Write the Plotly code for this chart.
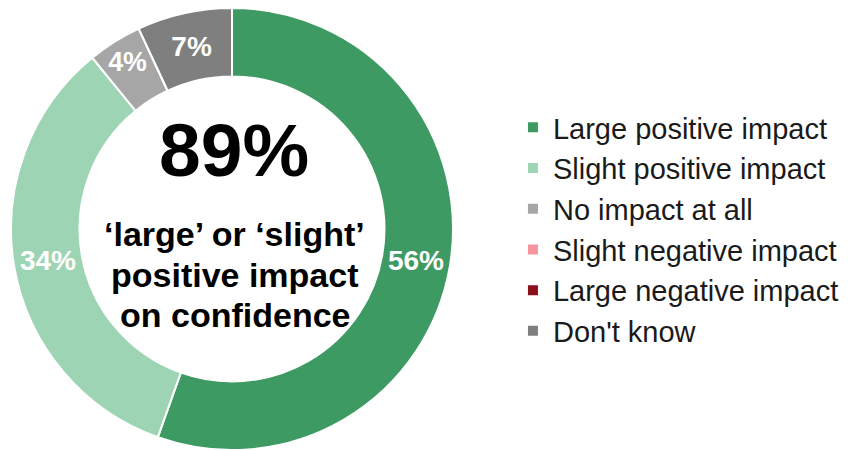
import plotly.graph_objects as go

# Survey responses: impact on confidence (percent of respondents)
categories = [
    "Large positive impact",
    "Slight positive impact",
    "No impact at all",
    "Slight negative impact",
    "Large negative impact",
    "Don't know",
]
shares = [56, 34, 4, 0, 0, 7]
colors = ["#3E9A63", "#9DD5B4", "#A6A6A6", "#F4959E", "#8C0F1C", "#7F7F7F"]
headline = "89%"
headline_caption = ["\u2018large\u2019 or \u2018slight\u2019", "positive impact", "on confidence"]

W, H = 865, 450
# pie placement in pixels (centre and outer radius)
cx, cy, r = 232, 229, 221
hole = 0.69

slice_text = [f"{v}%" if v > 0 else "" for v in shares]

fig = go.Figure(
    go.Pie(
        labels=categories,
        values=shares,
        sort=False,
        direction="clockwise",
        rotation=0,
        hole=hole,
        marker=dict(colors=colors, line=dict(color="white", width=2)),
        text=slice_text,
        textinfo="text",
        textposition="inside",
        insidetextorientation="horizontal",
        textfont=dict(family="Liberation Sans", size=28, color="white", weight="bold"),
        domain=dict(x=[(cx - r) / W, (cx + r) / W], y=[(H - cy - r) / H, (H - cy + r) / H]),
        hoverinfo="label+percent",
    )
)

xc = cx / W
fig.add_annotation(
    x=xc + 2 / W, y=1 - 150 / H, xref="paper", yref="paper",
    xanchor="center", yanchor="middle",
    text=f"<b>{headline}</b>", showarrow=False,
    font=dict(family="Liberation Sans", size=75, color="black"),
)
# caption lines placed individually for tighter line spacing
for i, line in enumerate(headline_caption):
    fig.add_annotation(
        x=xc + 3 / W, y=1 - (234 + 40.5 * i) / H, xref="paper", yref="paper",
        xanchor="center", yanchor="middle",
        text=f"<b>{line}</b>", showarrow=False,
        font=dict(family="Liberation Sans", size=34, color="black"),
    )

fig.update_layout(
    width=W, height=H,
    margin=dict(l=0, r=0, t=0, b=0),
    paper_bgcolor="white",
    plot_bgcolor="white",
    showlegend=True,
    legend=dict(
        x=0.593, y=0.49, xanchor="left", yanchor="middle",
        font=dict(family="Liberation Sans", size=29, color="#1a1a1a"),
        traceorder="normal",
        itemclick=False,
    ),
)

fig.write_html("out.html")
